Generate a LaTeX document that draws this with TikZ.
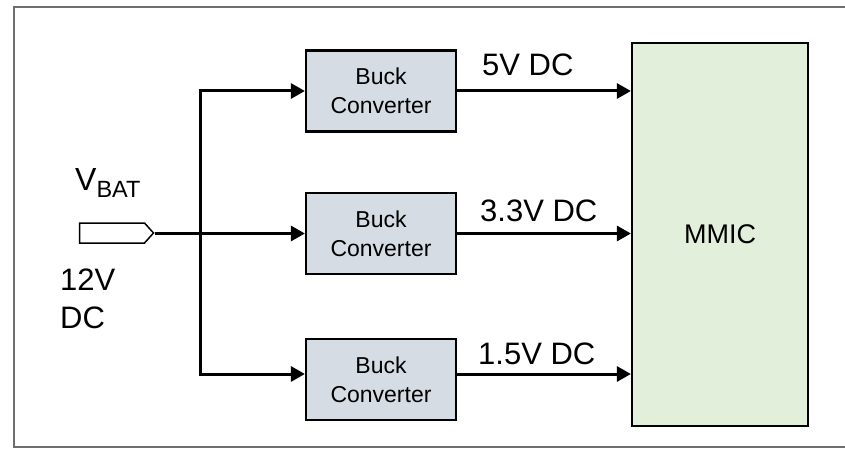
\documentclass[tikz,border=0pt]{standalone}
\usepackage{fontspec}
\setmainfont{Liberation Sans}
\usepackage{xcolor}
\usetikzlibrary{calc,shapes.symbols,arrows.meta}

\definecolor{buckfill}{HTML}{D6DCE4}
\definecolor{mmicfill}{HTML}{E2EFDA}
\definecolor{framegray}{HTML}{6E6E6E}

\tikzset{
  buckbox/.style={draw, line width=2.2pt, fill=buckfill, minimum width=150pt,
    minimum height=81pt, align=center, inner sep=0pt,
    font=\fontsize{23}{29}\selectfont},
  mmicbox/.style={draw, line width=2.2pt, fill=mmicfill, minimum width=176pt,
    minimum height=383pt, inner sep=0pt, font=\fontsize{27}{32}\selectfont},
  port/.style={draw, line width=1.5pt, shape=signal, signal to=east,
    signal pointer angle=96, minimum width=74pt, minimum height=20pt, inner sep=0pt},
  wire/.style={line width=3pt},
  feed/.style={wire, -{Triangle[length=14pt,width=15pt]}},
  lbl/.style={anchor=base west, inner sep=0pt, font=\fontsize{31}{37}\selectfont}
}

\begin{document}
\begin{tikzpicture}[x=1pt,y=-1pt]
\useasboundingbox (0,0) rectangle (845,449);
\draw[framegray, line width=2pt] (846,7) -- (14,7) -- (14,447) -- (846,447);

\node[port] (bat) at (112,233) {};
\node[anchor=base west, inner sep=0pt] (vbat) at (75,190)
  {{\fontsize{32}{38}\selectfont V}{\fontsize{23.5}{28}\selectfont\raisebox{-7pt}{BAT}}};
\node[lbl] (v12) at (60,290) {12V};
\node[lbl] (vdc) at (60,328) {DC};

\node[buckbox] (bk1) at (381,91) {Buck\\Converter};
\node[buckbox] (bk2) at (381,233.5) {Buck\\Converter};
\node[buckbox] (bk3) at (381,379.5) {Buck\\Converter};
\node[mmicbox] (mmic) at (720,234.5) {MMIC};

\coordinate (bustop) at (200,89.5);
\coordinate (busbot) at (200,375.5);
\draw[wire] (bustop) -- (busbot);

\draw[wire] (bat.east) -- (bustop |- bat.east);
\draw[feed] (bk1.west -| bustop) -- (bk1.west);
\draw[feed] (bustop |- bk2.west) -- (bk2.west);
\draw[feed] ($(busbot)+(0,-1.5)$) -- ($(busbot -| bk3.west)+(0,-1.5)$);

\draw[feed] (bk1.east) -- (bk1.east -| mmic.west);
\draw[feed] (bk2.east) -- (bk2.east -| mmic.west);
\draw[feed] ($(busbot -| bk3.east)+(0,-1.5)$) -- ($(busbot -| mmic.west)+(0,-1.5)$);

\node[lbl] (out5) at (482,76) {5V DC};
\node[lbl] (out33) at (480,221) {3.3V DC};
\node[lbl] (out15) at (478,364) {1.5V DC};
\end{tikzpicture}
\end{document}
